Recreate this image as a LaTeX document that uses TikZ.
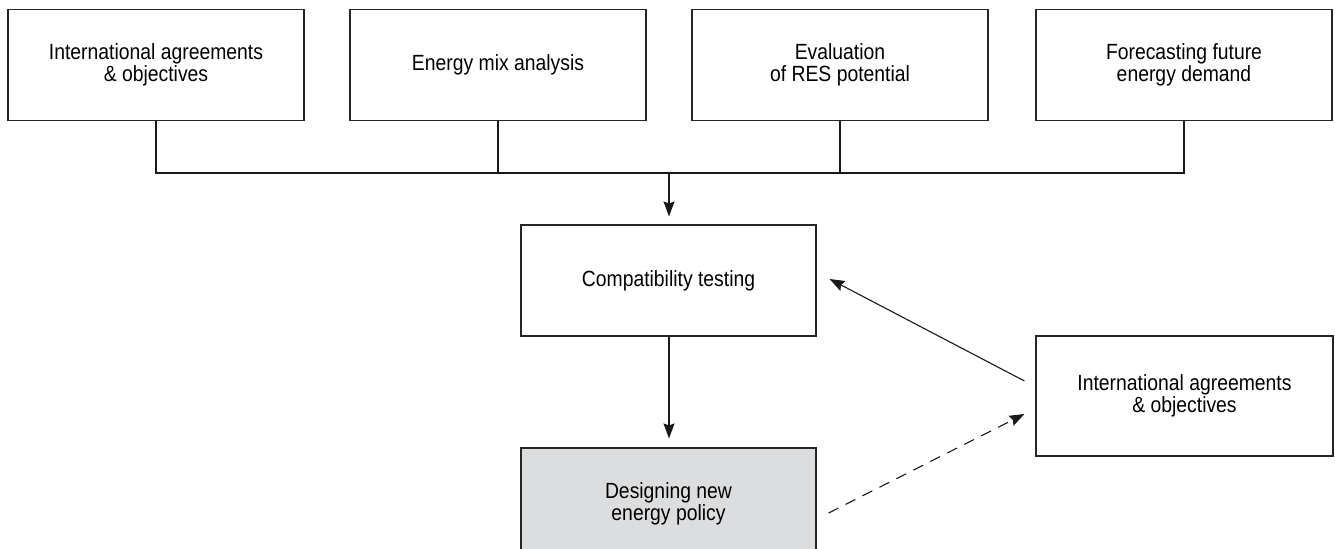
\documentclass[tikz,border=0pt]{standalone}
\usepackage{fontspec}
\setmainfont{Liberation Sans}[FakeStretch=0.88]
\usetikzlibrary{arrows.meta}

\definecolor{policygray}{RGB}{220,221,223}

\begin{document}
\begin{tikzpicture}[x=1bp, y=1bp, >={Stealth[length=15bp, width=11bp, inset=2bp]},
    every node/.style={font=\fontsize{22bp}{22bp}\selectfont},
    % Estilos de nodos
    inputbox/.style={
        draw=black!85, line width=1.1bp, fill=white,
        minimum width=296bp, minimum height=111bp, inner sep=0pt,
        align=center
    },
    flow/.style={
        line width=1.1bp, black!90
    }
]
\useasboundingbox (0,0) rectangle (1335,-549);
\clip (0,0) rectangle (1335,-549);

% =============================================
% FUENTES (fila superior)
% =============================================
\node[inputbox] (agree)    at (156, -64.75) {International agreements\\\& objectives};
\node[inputbox] (mix)      at (498, -64.75) {Energy mix analysis};
\node[inputbox] (res)      at (840, -64.75) {Evaluation\\of RES potential};
\node[inputbox] (forecast) at (1184, -64.75) {Forecasting future\\energy demand};

% bus colector
\coordinate (bus) at (669, -173);
\draw[flow] (agree.south) |- (bus);
\draw[flow] (forecast.south) |- (bus);
\draw[flow] (mix.south) -- (mix.south |- bus);
\draw[flow] (res.south) -- (res.south |- bus);

% =============================================
% PRUEBA Y DISEÑO
% =============================================
\node[inputbox, minimum width=295bp] (compat) at (668.5, -280.5) {Compatibility testing};
\node[inputbox, minimum width=295bp, fill=policygray] (policy) at (668.5, -503.5)
    {Designing new\\energy policy};

% Acuerdos (derecha)
\node[inputbox, minimum width=297bp, minimum height=120bp] (intl) at (1184.5, -396)
    {International agreements\\\& objectives};

% =============================================
% CONEXIONES
% =============================================
\draw[flow, ->, shorten >=8bp] (bus) -- (bus |- compat.north);
\draw[flow, ->, shorten >=9bp] (compat.south -| bus) -- (policy.north -| bus);

\draw[flow, ->] ([xshift=-11bp, yshift=15bp]intl.west) -- ([xshift=13bp, yshift=1.5bp]compat.east);
\draw[flow, ->, dash pattern=on 11bp off 8bp]
    ([xshift=12bp, yshift=-9.5bp]policy.east) -- ([xshift=-11bp, yshift=-18bp]intl.west);

\end{tikzpicture}
\end{document}
